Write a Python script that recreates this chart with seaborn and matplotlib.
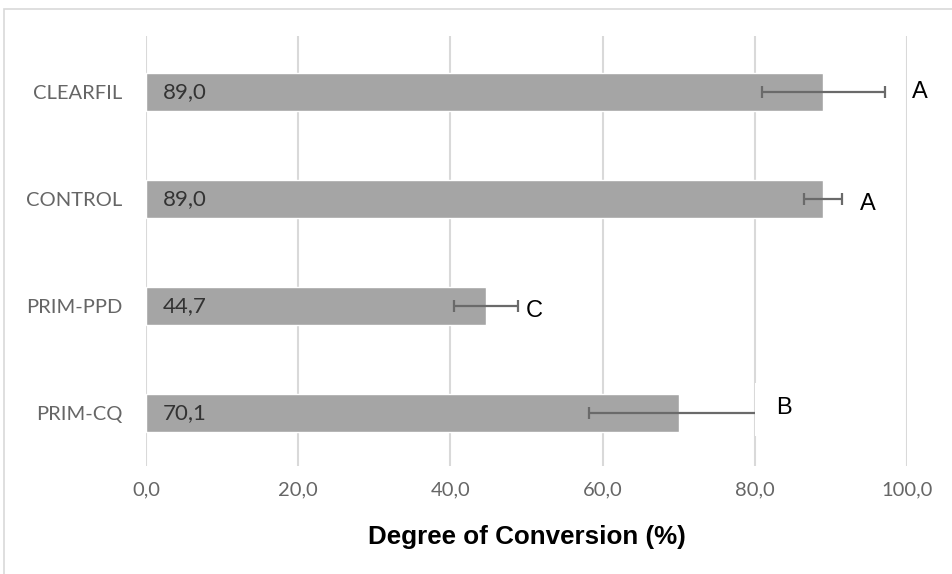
import numpy as np
import pandas as pd
import matplotlib
matplotlib.use("Agg")
import matplotlib.pyplot as plt
import seaborn as sns
from matplotlib.patches import Rectangle

# data
groups = ["CLEARFIL", "CONTROL", "PRIM-PPD", "PRIM-CQ"]
conversion = [89.0, 89.0, 44.7, 70.1]
sd = [8.1, 2.5, 4.2, 11.9]
letters = ["A", "A", "C", "B"]
letter_x = [101.7, 94.9, 51.0, 83.8]
letter_dy = [0.0, 0.05, 0.05, -0.04]

df = pd.DataFrame({"group": groups, "dc": conversion})

sns.set_style("white")
fig = plt.figure(figsize=(9.53, 5.74), dpi=100)
ax = fig.add_axes([0.1532, 0.188, 0.7985, 0.749])

sns.barplot(data=df, x="dc", y="group", color="#a5a5a5", saturation=1,
            width=0.355, errorbar=None, ax=ax, zorder=2)

ypos = np.arange(len(groups))
ax.errorbar(conversion, ypos, xerr=sd, fmt="none", ecolor="#6a6a6a",
            elinewidth=1.6, capsize=4.5, capthick=1.6, zorder=3)

# value labels inside the bars
for y, v in zip(ypos, conversion):
    ax.text(2.2, y, f"{v:.1f}".replace(".", ","), va="center", ha="left",
            fontsize=16, color="#333333", family="Lato", zorder=4)

# significance letters
for y, lab, lx, dy in zip(ypos, letters, letter_x, letter_dy):
    ax.text(lx, y + dy, lab, va="center", ha="center",
            fontsize=17, color="black", family="Liberation Sans", zorder=6)

# white box behind the "B"
ax.add_patch(Rectangle((80.05, 2.72), 19.6, 0.5, facecolor="white",
                       edgecolor="none", zorder=5))

ax.set_xlim(0, 100)
ax.set_ylim(3.5, -0.52)
ax.set_xticks(np.arange(0, 101, 20))
ax.set_xticklabels([f"{t:.1f}".replace(".", ",") for t in np.arange(0, 101, 20)])
ax.grid(axis="x", color="#d9d9d9", linewidth=1.5, zorder=0)
ax.set_axisbelow(True)
for s in ax.spines.values():
    s.set_visible(False)
ax.tick_params(axis="both", length=0, labelsize=14.5, labelcolor="#666666", pad=11)
for t in ax.get_xticklabels() + ax.get_yticklabels():
    t.set_family("Lato")
ax.tick_params(axis="y", pad=17)
ax.set_ylabel("")
ax.set_xlabel("Degree of Conversion (%)", fontsize=18.7, fontweight="bold",
              family="Liberation Sans", color="black", labelpad=19)

# outer light border
fig.add_artist(Rectangle((4 / 953, -0.1), 1.2, (574 - 9) / 574 + 0.1,
                         transform=fig.transFigure, facecolor="none",
                         edgecolor="#d9d9d9", linewidth=1.2))

fig.savefig("out.png", dpi=100)
